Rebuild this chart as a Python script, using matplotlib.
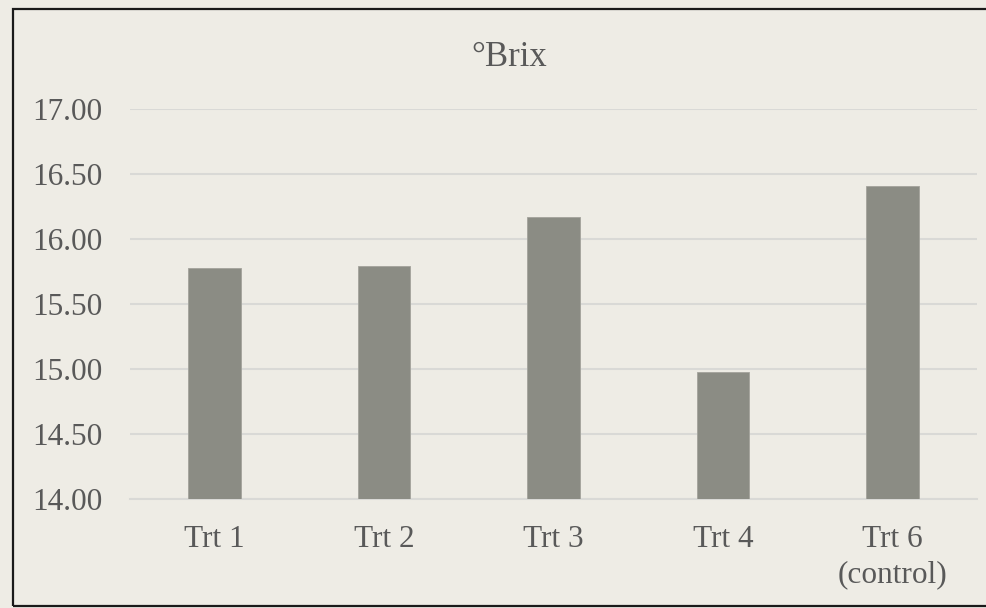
import matplotlib
matplotlib.use("Agg")
import matplotlib.pyplot as plt
from matplotlib.patches import Rectangle

categories = ["Trt 1", "Trt 2", "Trt 3", "Trt 4", "Trt 6\n(control)"]
values = [15.78, 15.79, 16.17, 14.98, 16.41]
yticks = [14.00, 14.50, 15.00, 15.50, 16.00, 16.50, 17.00]
title = "°Brix"

W, H = 986, 608
bg = "#EEECE5"
bar_color = "#8B8C84"
grid_color = "#D9D9D6"
text_color = "#595959"

plt.rcParams["font.family"] = ["Liberation Serif", "DejaVu Serif"]

fig = plt.figure(figsize=(W / 100, H / 100), dpi=100)
fig.patch.set_facecolor(bg)

# chart border
fig.patches.append(Rectangle((13 / W, 1 - 606 / H), (W + 10 - 13) / W, (606 - 9) / H,
                             transform=fig.transFigure, fill=False,
                             edgecolor="#1a1a1a", linewidth=1.6, zorder=10))

ax = fig.add_axes([130 / W, 1 - 499 / H, (977 - 130) / W, (499 - 109) / H])
ax.set_facecolor(bg)
x = list(range(len(categories)))
ax.bar(x, values, width=0.31, color=bar_color, edgecolor="#A3A39C", linewidth=0.6, zorder=3)
ax.set_xlim(-0.5, len(categories) - 0.5)
ax.set_ylim(yticks[0], yticks[-1])
ax.set_yticks(yticks)
ax.set_yticklabels([f"{v:.2f}" for v in yticks])
ax.set_xticks(x)
ax.set_xticklabels(categories, linespacing=1.25)
ax.tick_params(axis="both", length=0, labelsize=22.5, colors=text_color)
ax.tick_params(axis="y", pad=20)
ax.tick_params(axis="x", pad=19)
ax.grid(axis="y", color=grid_color, linewidth=1.5, zorder=0)
for s in ["top", "right", "left"]:
    ax.spines[s].set_visible(False)
ax.spines["bottom"].set_color(grid_color)
ax.spines["bottom"].set_linewidth(1.5)

fig.text(509 / W, 1 - 66 / H, title, ha="center", va="baseline",
         fontsize=25, color=text_color)

fig.savefig("out.png", dpi=100, facecolor=bg)
